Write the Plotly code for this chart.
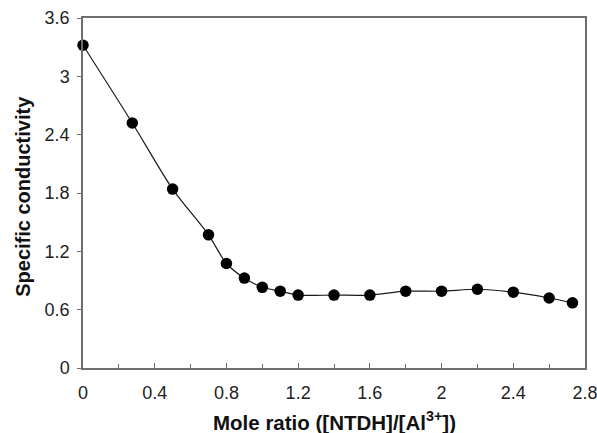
import plotly.graph_objects as go

# Mole ratio ([NTDH]/[Al3+]) and specific conductivity readings
mole_ratio = [0.0, 0.275, 0.5, 0.7, 0.8, 0.9, 1.0, 1.1, 1.2, 1.4, 1.6, 1.8, 2.0, 2.2, 2.4, 2.6, 2.73]
conductivity = [3.32, 2.52, 1.84, 1.37, 1.075, 0.925, 0.83, 0.79, 0.75, 0.75, 0.75, 0.79, 0.79, 0.81, 0.78, 0.72, 0.67]

x_ticks = [0, 0.4, 0.8, 1.2, 1.6, 2, 2.4, 2.8]
y_ticks = [0, 0.6, 1.2, 1.8, 2.4, 3, 3.6]

x_title = "<b>Mole ratio ([NTDH]/[Al<sup>3+</sup>])</b>"
y_title = "<b>Specific conductivity</b>"

axis_grey = "#6e6e6e"
font_family = "Liberation Sans, Arial, sans-serif"

fig = go.Figure()
fig.add_trace(go.Scatter(
    x=mole_ratio,
    y=conductivity,
    mode="lines+markers",
    line=dict(color="#1a1a1a", width=1.2, shape="spline", smoothing=0.8),
    marker=dict(color="black", size=11.5, symbol="circle"),
    showlegend=False,
    cliponaxis=False,
))

fig.update_xaxes(
    range=[0, 2.8],
    tickvals=x_ticks,
    ticktext=[str(v) for v in x_ticks],
    ticks="inside",
    ticklen=5,
    tickwidth=1.2,
    tickcolor=axis_grey,
    minor=dict(dtick=0.2, ticks="inside", ticklen=4, tickwidth=1.2, tickcolor=axis_grey, showgrid=False),
    showline=True,
    linecolor=axis_grey,
    linewidth=1.5,
    mirror=True,
    showgrid=False,
    zeroline=False,
    automargin=False,
    ticklabeloverflow="allow",
    ticklabelstandoff=8,
    tickfont=dict(family=font_family, size=18, color="#222"),
)

fig.update_yaxes(
    range=[0, 3.6],
    tickvals=y_ticks,
    ticktext=["0", "0.6", "1.2", "1.8", "2.4", "3", "3.6"],
    ticks="outside",
    ticklen=4,
    tickwidth=1.2,
    tickcolor=axis_grey,
    showline=True,
    linecolor=axis_grey,
    linewidth=1.5,
    mirror=True,
    showgrid=False,
    zeroline=False,
    automargin=False,
    ticklabeloverflow="allow",
    ticklabelstandoff=4,
    tickfont=dict(family=font_family, size=18, color="#222"),
)

# Axis titles placed in paper coordinates
fig.add_annotation(
    text=x_title, xref="paper", yref="paper", x=0.5, y=-0.152,
    xanchor="center", yanchor="middle", showarrow=False,
    font=dict(family=font_family, size=20.5, color="#111"),
)
fig.add_annotation(
    text=y_title, xref="paper", yref="paper", x=-0.121, y=0.49,
    xanchor="center", yanchor="middle", showarrow=False, textangle=-90,
    font=dict(family=font_family, size=20, color="#111"),
)

fig.update_layout(
    width=597,
    height=433,
    margin=dict(l=83, r=12, t=18, b=65),
    paper_bgcolor="white",
    plot_bgcolor="white",
)

fig.write_html("out.html")
